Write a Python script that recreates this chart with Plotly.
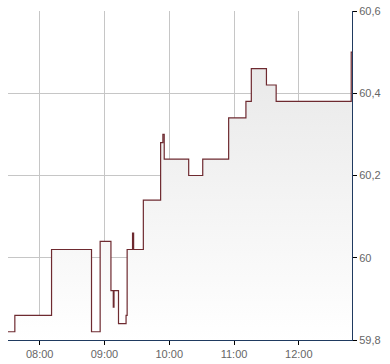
import plotly.graph_objects as go

day = "2024-01-15 "
times = ["07:30:40", "07:37:00", "08:11:00", "08:48:00", "08:56:00", "09:06:00",
         "09:08:10", "09:08:50", "09:13:00", "09:20:00", "09:21:00", "09:26:00",
         "09:27:00", "09:36:00", "09:52:00", "09:54:06", "09:55:20", "10:18:00",
         "10:31:00", "10:55:00", "11:11:00", "11:16:00", "11:30:00", "11:39:00",
         "12:48:30", "12:49:14"]
prices = [59.82, 59.86, 60.02, 59.82, 60.04, 59.92,
          59.88, 59.92, 59.84, 59.86, 60.02, 60.06,
          60.02, 60.14, 60.28, 60.30, 60.24, 60.20,
          60.24, 60.34, 60.38, 60.46, 60.42, 60.38,
          60.50, 60.50]

y_ticks = [59.8, 60.0, 60.2, 60.4, 60.6]
y_labels = ["59,8", "60", "60,2", "60,4", "60,6"]
x_ticks = ["08:00", "09:00", "10:00", "11:00", "12:00"]

x = [day + t for t in times]

fig = go.Figure()
fig.add_trace(go.Scatter(
    x=x, y=prices, mode="lines", line_shape="hv",
    line=dict(color="#6e2a30", width=1.2),
    fill="tozeroy",
    fillgradient=dict(type="vertical", start=59.8, stop=60.5,
                      colorscale=[[0, "#ffffff"], [1, "#e8e8e8"]]),
    hoverinfo="skip",
))

grid = "#c6c6c6"
axis_col = "#1f3a60"
label_font = dict(family="Liberation Sans, Arial", size=11, color="#666666")
fig.update_layout(
    width=390, height=364,
    margin=dict(l=8, r=38, t=11, b=24, autoexpand=False),
    paper_bgcolor="white", plot_bgcolor="white",
    showlegend=False,
    font=label_font,
    xaxis=dict(
        range=[day + times[0], day + times[-1]],
        tickvals=[day + t for t in x_ticks], ticktext=x_ticks,
        color="#666666", tickfont=label_font, automargin=False,
        showgrid=True, gridcolor=grid, gridwidth=1,
        showline=True, linecolor=axis_col, linewidth=1,
        ticks="outside", ticklen=4, tickcolor="#000000",
        zeroline=False,
    ),
    yaxis=dict(
        side="right", range=[59.8, 60.6],
        tickvals=y_ticks, ticktext=y_labels,
        color="#666666", tickfont=label_font, automargin=False,
        showgrid=True, gridcolor=grid, gridwidth=1,
        showline=True, linecolor=axis_col, linewidth=1,
        ticks="outside", ticklen=4, tickcolor="#000000",
        zeroline=False,
    ),
)

fig.write_html("out.html")
